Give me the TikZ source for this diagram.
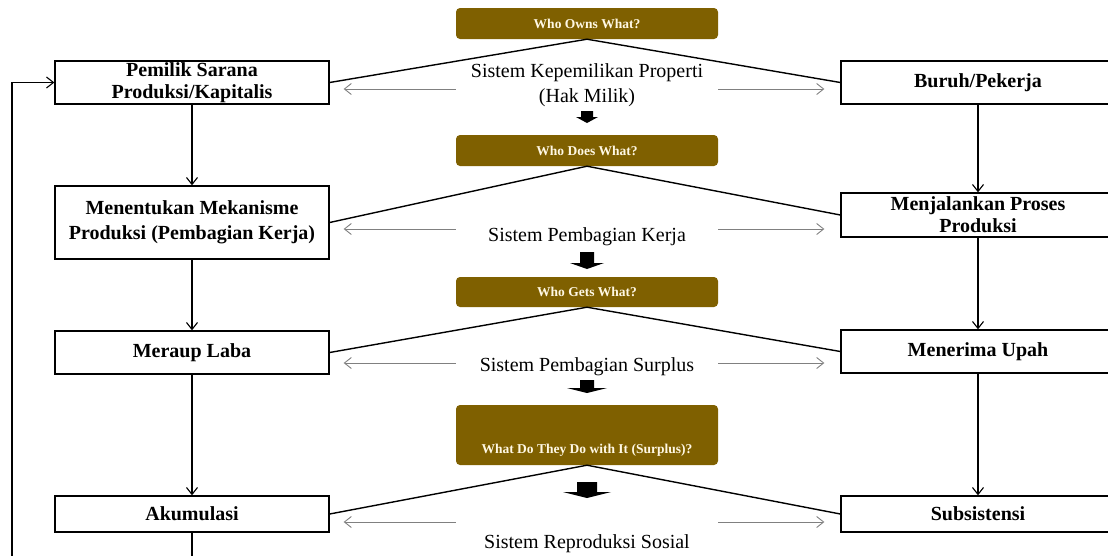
\documentclass[tikz,border=0pt]{standalone}
\usepackage{fontspec}
\setmainfont{Liberation Serif}
\usepackage{tikz}
\usetikzlibrary{arrows.meta}
\usetikzlibrary{calc}
\tikzset{>={Straight Barb[length=7pt,width=11pt]}}
\definecolor{whobrown}{RGB}{127,96,0}
\definecolor{whocream}{RGB}{255,248,228}
\tikzset{
  actor/.style={draw, line width=1.3pt, minimum width=274pt, inner sep=0pt, align=center,
    font=\fontsize{20}{22}\selectfont\bfseries},
  whotxt/.style={text=whocream, inner sep=0pt, font=\fontsize{13.5}{16}\selectfont\bfseries},
  who/.style={whotxt, fill=whobrown, rounded corners=4pt, minimum width=262pt},
  sistem/.style={font=\fontsize{20}{25}\selectfont, align=center, inner sep=0pt},
  flow/.style={->, line width=1.1pt},
  relasi/.style={->, gray, line width=0.9pt},
  tie/.style={line width=1.4pt},
}

\begin{document}
\begin{tikzpicture}[x=1pt, y=-1pt]
    \useasboundingbox (0,0) rectangle (1108,555);

    % kapitalis
    \node[actor, minimum height=43pt] (pemilik) at (192,82.5) {Pemilik Sarana\\Produksi/Kapitalis};
    \node[actor, minimum height=73pt, font=\fontsize{20}{25}\selectfont\bfseries] (tentukan) at (192,222.5) {Menentukan Mekanisme\\Produksi (Pembagian Kerja)};
    \node[actor, minimum height=43pt] (laba) at (192,352.5) {Meraup Laba};
    \node[actor, minimum height=36pt] (akum) at (192,514) {Akumulasi};

    % pekerja
    \node[actor, minimum height=43pt] (buruh) at (978,82.5) {Buruh/Pekerja};
    \node[actor, minimum height=44pt] (jalankan) at (978,215) {Menjalankan Proses\\Produksi};
    \node[actor, minimum height=43pt] (upah) at (978,351.5) {Menerima Upah};
    \node[actor, minimum height=36pt] (subsis) at (978,514) {Subsistensi};

    % pertanyaan
    \node[who, minimum height=31pt] (own) at (587,23.5) {Who Owns What?};
    \node[who, minimum height=31pt] (does) at (587,150.5) {Who Does What?};
    \node[who, minimum height=30pt] (gets) at (587,292) {Who Gets What?};
    \node[who, minimum height=60pt] (dowith) at (587,435) {};
    \node[whotxt, anchor=base] (dowithlbl) at (587,453) {What Do They Do with It (Surplus)?};

    % sistem
    \node[sistem] (milik) at (587,85) {Sistem Kepemilikan Properti\\(Hak Milik)};
    \node[sistem, anchor=base] (kerja) at (587,241) {Sistem Pembagian Kerja};
    \node[sistem, anchor=base] (surplus) at (587,371) {Sistem Pembagian Surplus};
    \node[sistem, anchor=base] (reproduksi) at (587,548) {Sistem Reproduksi Sosial};

    \coordinate (g1) at (587,89);
    \coordinate (g2) at (587,229);
    \coordinate (g3) at (587,363);
    \coordinate (g4) at (587,522);

    \foreach \w/\l/\r/\g in {own/pemilik/buruh/g1, does/tentukan/jalankan/g2,
                             gets/laba/upah/g3, dowith/akum/subsis/g4} {
      \draw[tie] (\l.east) -- (\w.south) -- (\r.west);
      \draw[relasi, shorten >=14pt] (\g -| \w.west) -- (\g -| \l.east);
      \draw[relasi, shorten >=16pt] (\g -| \w.east) -- (\g -| \r.west);
    }

    % panah blok
    \foreach \cy/\sh/\sw/\hw/\hh in {111/6/6/11/6, 252/11/7/17/6, 380/8/7/20/5, 482/10/10/24/6} {
      \fill ({587-\sw},\cy) -- ({587+\sw},\cy) -- ({587+\sw},{\cy+\sh}) -- ({587+\hw},{\cy+\sh})
        -- (587,{\cy+\sh+\hh}) -- ({587-\hw},{\cy+\sh}) -- ({587-\sw},{\cy+\sh}) -- cycle;
    }

    \draw[flow] (pemilik) -- (tentukan);
    \draw[flow] (tentukan) -- (laba);
    \draw[flow] (laba) -- (akum);
    \draw[flow] (buruh) -- (jalankan);
    \draw[flow] (jalankan) -- (upah);
    \draw[flow] (upah) -- (subsis);

    \coordinate (balik) at (12,575);
    \draw[flow] (akum.south) |- (balik) |- (pemilik.west);
\end{tikzpicture}
\end{document}
